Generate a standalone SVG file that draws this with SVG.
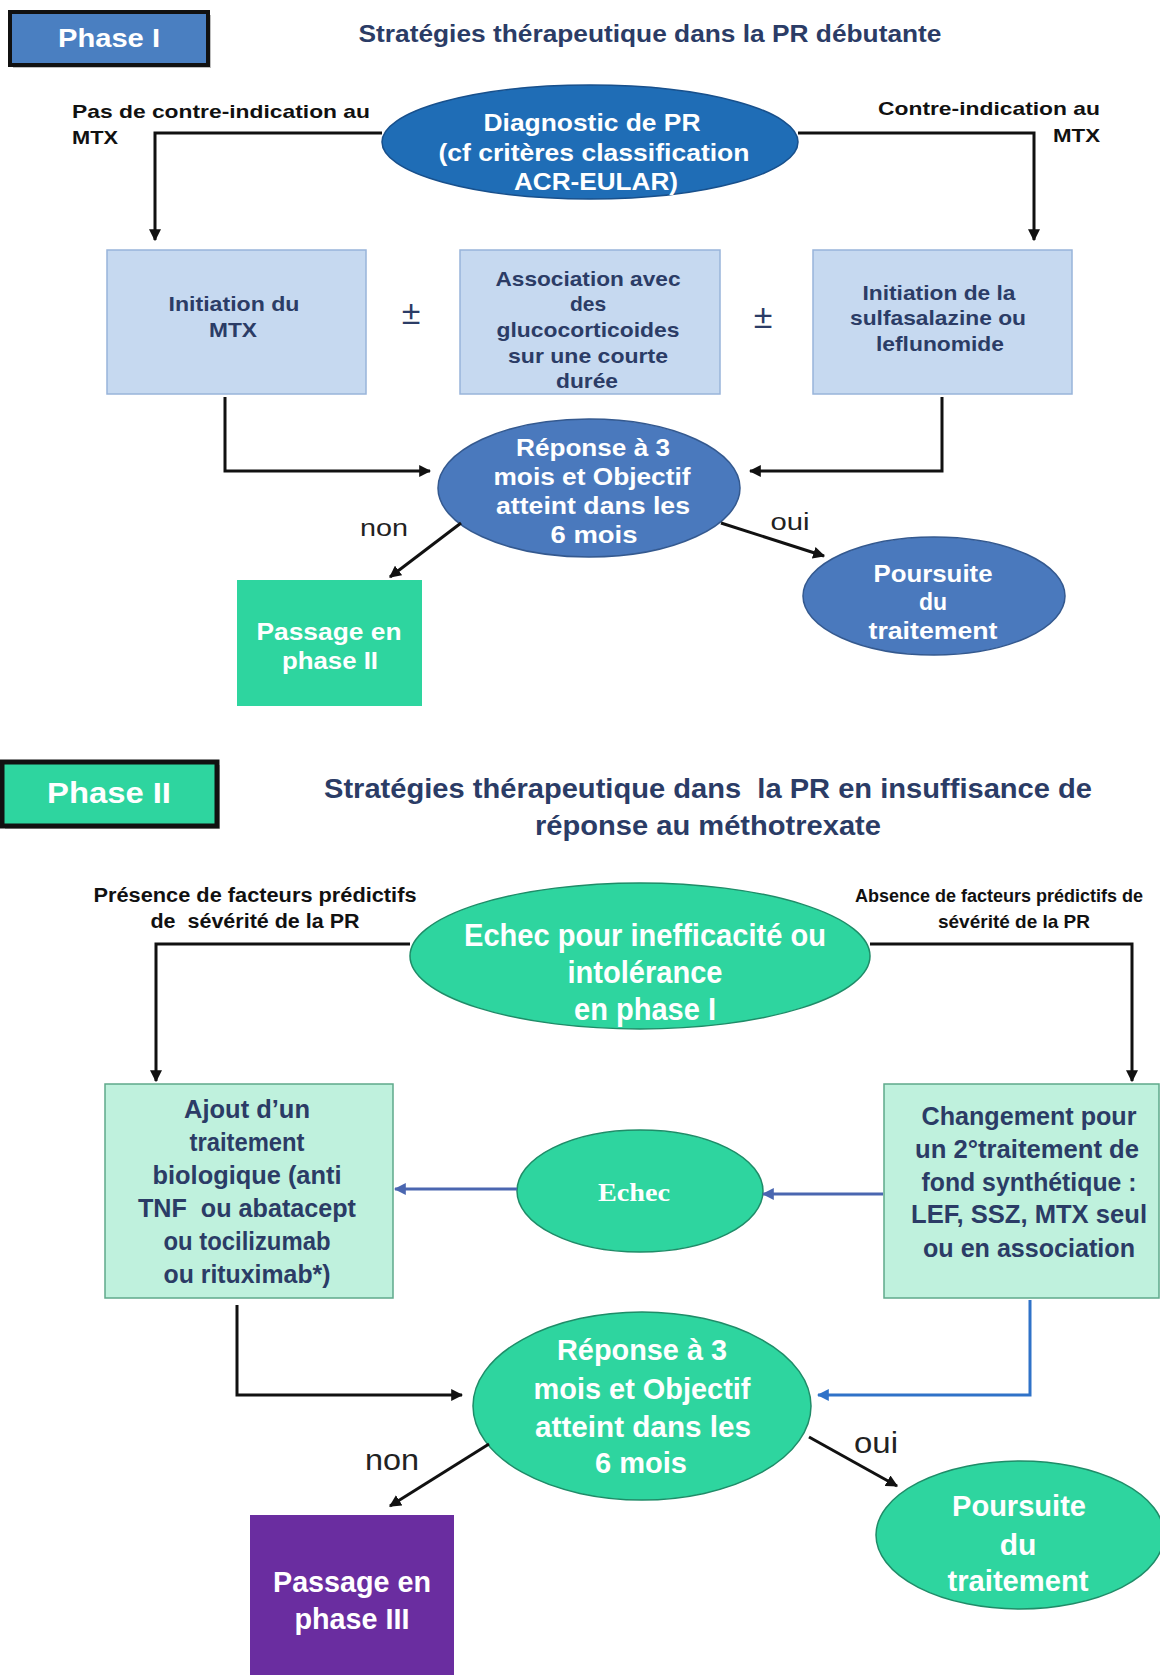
<svg xmlns="http://www.w3.org/2000/svg" width="1160" height="1675" viewBox="0 0 1160 1675">
<defs>
<marker id="ah" viewBox="0 0 10 10" refX="9" refY="5" markerWidth="4" markerHeight="4" orient="auto" markerUnits="strokeWidth"><path d="M0,0 L10,5 L0,10 z" fill="#111"/></marker>
<marker id="ahb" viewBox="0 0 10 10" refX="9" refY="5" markerWidth="4" markerHeight="4" orient="auto" markerUnits="strokeWidth"><path d="M0,0 L10,5 L0,10 z" fill="#4a66b0"/></marker>
<marker id="ahb2" viewBox="0 0 10 10" refX="9" refY="5" markerWidth="4" markerHeight="4" orient="auto" markerUnits="strokeWidth"><path d="M0,0 L10,5 L0,10 z" fill="#2f72c8"/></marker>
</defs>
<style>
text{font-family:"Liberation Sans",Arial,sans-serif;font-weight:bold;text-anchor:middle;white-space:pre}
.nav{fill:#2b3c66}
.wh{fill:#ffffff}
.blk{fill:#111}
.reg{font-weight:normal;fill:#222}
.conn{fill:none;stroke:#111;stroke-width:3}
.bconn{fill:none;stroke:#4a66b0;stroke-width:3}
.bconn2{fill:none;stroke:#2f72c8;stroke-width:3}
.lb{fill:#c6d9f0;stroke:#98b4da;stroke-width:1.5}
.mint{fill:#bff1dd;stroke:#5fa98b;stroke-width:1.5}
.grn{fill:#2ed59f}
.gell{fill:#2ed59f;stroke:#1f8c68;stroke-width:1.5}
.bell{fill:#4a79bd;stroke:#34598f;stroke-width:1.5}
</style>
<rect width="1160" height="1675" fill="#ffffff"/>

<!-- Phase I -->
<g id="phase1-label">
<rect x="13" y="15" width="198" height="53" fill="#444" opacity="0.35"/>
<rect x="10" y="12" width="198" height="53" fill="#4a7fc1" stroke="#111" stroke-width="4"/>
<text x="109" y="47" class="wh" font-size="26" textLength="102" lengthAdjust="spacingAndGlyphs">Phase I</text>
</g>
<g id="phase1-title">
<text x="650" y="42" class="nav" font-size="23" textLength="583" lengthAdjust="spacingAndGlyphs">Stratégies thérapeutique dans la PR débutante</text>
</g>
<g id="label-pas-ci">
<text x="72" y="118" class="blk" font-size="19" style="text-anchor:start" textLength="298" lengthAdjust="spacingAndGlyphs">Pas de contre-indication au</text>
<text x="72" y="144" class="blk" font-size="19" style="text-anchor:start" textLength="46" lengthAdjust="spacingAndGlyphs">MTX</text>
</g>
<g id="label-ci">
<text x="1100" y="115" class="blk" font-size="19" style="text-anchor:end" textLength="222" lengthAdjust="spacingAndGlyphs">Contre-indication au</text>
<text x="1100" y="142" class="blk" font-size="19" style="text-anchor:end" textLength="47" lengthAdjust="spacingAndGlyphs">MTX</text>
</g>
<g id="diagnostic">
<ellipse cx="590" cy="142" rx="208" ry="57" fill="#1f6db6" stroke="#18508c" stroke-width="1.5"/>
<text x="592" y="131" class="wh" font-size="24" textLength="217" lengthAdjust="spacingAndGlyphs">Diagnostic de PR</text>
<text x="594" y="161" class="wh" font-size="24" textLength="311" lengthAdjust="spacingAndGlyphs">(cf critères classification</text>
<text x="596" y="190" class="wh" font-size="24" textLength="164" lengthAdjust="spacingAndGlyphs">ACR-EULAR)</text>
</g>
<g id="init-mtx">
<rect x="107" y="250" width="259" height="144" class="lb"/>
<text x="234" y="311" class="nav" font-size="21" textLength="131" lengthAdjust="spacingAndGlyphs">Initiation du</text>
<text x="233" y="337" class="nav" font-size="21" textLength="48" lengthAdjust="spacingAndGlyphs">MTX</text>
</g>
<g id="pm1"><text x="411" y="324" class="reg" font-size="34" style="fill:#2b3c66">±</text></g>
<g id="gluco">
<rect x="460" y="250" width="260" height="144" class="lb"/>
<text x="588" y="286" class="nav" font-size="21" textLength="185" lengthAdjust="spacingAndGlyphs">Association avec</text>
<text x="588" y="311" class="nav" font-size="21">des</text>
<text x="588" y="337" class="nav" font-size="21" textLength="183" lengthAdjust="spacingAndGlyphs">glucocorticoides</text>
<text x="588" y="363" class="nav" font-size="21" textLength="160" lengthAdjust="spacingAndGlyphs">sur une courte</text>
<text x="587" y="388" class="nav" font-size="21" textLength="62" lengthAdjust="spacingAndGlyphs">durée</text>
</g>
<g id="pm2"><text x="763" y="328" class="reg" font-size="34" style="fill:#2b3c66">±</text></g>
<g id="init-ssz">
<rect x="813" y="250" width="259" height="144" class="lb"/>
<text x="939" y="300" class="nav" font-size="21" textLength="153" lengthAdjust="spacingAndGlyphs">Initiation de la</text>
<text x="938" y="325" class="nav" font-size="21" textLength="176" lengthAdjust="spacingAndGlyphs">sulfasalazine ou</text>
<text x="940" y="351" class="nav" font-size="21" textLength="128" lengthAdjust="spacingAndGlyphs">leflunomide</text>
</g>
<g id="reponse1">
<ellipse cx="589" cy="488" rx="151" ry="69" class="bell"/>
<text x="593" y="456" class="wh" font-size="23" textLength="154" lengthAdjust="spacingAndGlyphs">Réponse à 3</text>
<text x="592" y="485" class="wh" font-size="23" textLength="197" lengthAdjust="spacingAndGlyphs">mois et Objectif</text>
<text x="593" y="514" class="wh" font-size="23" textLength="194" lengthAdjust="spacingAndGlyphs">atteint dans les</text>
<text x="594" y="543" class="wh" font-size="23" textLength="87" lengthAdjust="spacingAndGlyphs">6 mois</text>
</g>
<g id="passage2">
<rect x="237" y="580" width="185" height="126" class="grn"/>
<text x="329" y="640" class="wh" font-size="23" textLength="145" lengthAdjust="spacingAndGlyphs">Passage en</text>
<text x="330" y="669" class="wh" font-size="23" textLength="96" lengthAdjust="spacingAndGlyphs">phase II</text>
</g>
<g id="poursuite1">
<ellipse cx="934" cy="596" rx="131" ry="59" class="bell"/>
<text x="933" y="582" class="wh" font-size="23" textLength="119" lengthAdjust="spacingAndGlyphs">Poursuite</text>
<text x="933" y="610" class="wh" font-size="23">du</text>
<text x="933" y="639" class="wh" font-size="23" textLength="129" lengthAdjust="spacingAndGlyphs">traitement</text>
</g>
<g id="labels1">
<text x="384" y="536" class="reg" font-size="23" textLength="48" lengthAdjust="spacingAndGlyphs">non</text>
<text x="790" y="530" class="reg" font-size="23" textLength="39" lengthAdjust="spacingAndGlyphs">oui</text>
</g>

<!-- Phase II -->
<g id="phase2-label">
<rect x="5" y="765" width="215" height="64" fill="#444" opacity="0.35"/>
<rect x="2" y="762" width="215" height="64" fill="#2ed59f" stroke="#111" stroke-width="5"/>
<text x="109" y="803" class="wh" font-size="30" textLength="124" lengthAdjust="spacingAndGlyphs">Phase II</text>
</g>
<g id="phase2-title">
<text x="708" y="798" class="nav" font-size="28" textLength="768" lengthAdjust="spacingAndGlyphs">Stratégies thérapeutique dans  la PR en insuffisance de</text>
<text x="708" y="835" class="nav" font-size="28" textLength="346" lengthAdjust="spacingAndGlyphs">réponse au méthotrexate</text>
</g>
<g id="label-presence">
<text x="255" y="902" class="blk" font-size="20" textLength="323" lengthAdjust="spacingAndGlyphs">Présence de facteurs prédictifs</text>
<text x="255" y="928" class="blk" font-size="20" textLength="209" lengthAdjust="spacingAndGlyphs">de  sévérité de la PR</text>
</g>
<g id="label-absence">
<text x="855" y="902" class="blk" font-size="18" style="text-anchor:start" textLength="288" lengthAdjust="spacingAndGlyphs">Absence de facteurs prédictifs de</text>
<text x="1014" y="928" class="blk" font-size="19" textLength="152" lengthAdjust="spacingAndGlyphs">sévérité de la PR</text>
</g>
<g id="echec-phase1">
<ellipse cx="640" cy="956" rx="230" ry="73" class="gell"/>
<text x="645" y="946" class="wh" font-size="32" textLength="362" lengthAdjust="spacingAndGlyphs">Echec pour inefficacité ou</text>
<text x="645" y="983" class="wh" font-size="32" textLength="155" lengthAdjust="spacingAndGlyphs">intolérance</text>
<text x="645" y="1020" class="wh" font-size="32" textLength="142" lengthAdjust="spacingAndGlyphs">en phase I</text>
</g>
<g id="ajout-bio">
<rect x="105" y="1084" width="288" height="214" class="mint"/>
<text x="247" y="1118" class="nav" font-size="26" textLength="126" lengthAdjust="spacingAndGlyphs">Ajout d’un</text>
<text x="247" y="1151" class="nav" font-size="26" textLength="115" lengthAdjust="spacingAndGlyphs">traitement</text>
<text x="247" y="1184" class="nav" font-size="26" textLength="189" lengthAdjust="spacingAndGlyphs">biologique (anti</text>
<text x="247" y="1217" class="nav" font-size="26" textLength="218" lengthAdjust="spacingAndGlyphs">TNF  ou abatacept</text>
<text x="247" y="1250" class="nav" font-size="26" textLength="167" lengthAdjust="spacingAndGlyphs">ou tocilizumab</text>
<text x="247" y="1283" class="nav" font-size="26" textLength="167" lengthAdjust="spacingAndGlyphs">ou rituximab*)</text>
</g>
<g id="changement">
<rect x="884" y="1084" width="275" height="214" class="mint"/>
<text x="1029" y="1125" class="nav" font-size="26" textLength="215" lengthAdjust="spacingAndGlyphs">Changement pour</text>
<text x="1027" y="1158" class="nav" font-size="26" textLength="224" lengthAdjust="spacingAndGlyphs">un 2°traitement de</text>
<text x="1029" y="1191" class="nav" font-size="26" textLength="215" lengthAdjust="spacingAndGlyphs">fond synthétique :</text>
<text x="1029" y="1223" class="nav" font-size="26" textLength="236" lengthAdjust="spacingAndGlyphs">LEF, SSZ, MTX seul</text>
<text x="1029" y="1257" class="nav" font-size="26" textLength="212" lengthAdjust="spacingAndGlyphs">ou en association</text>
</g>
<g id="echec">
<ellipse cx="640" cy="1191" rx="123" ry="61" class="gell"/>
<text x="634" y="1201" class="wh" font-size="26" style="font-family:'Liberation Serif','Times New Roman',serif" textLength="72" lengthAdjust="spacingAndGlyphs">Echec</text>
</g>
<g id="reponse2">
<ellipse cx="642" cy="1406" rx="169" ry="94" class="gell"/>
<text x="642" y="1360" class="wh" font-size="30" textLength="170" lengthAdjust="spacingAndGlyphs">Réponse à 3</text>
<text x="642" y="1399" class="wh" font-size="30" textLength="217" lengthAdjust="spacingAndGlyphs">mois et Objectif</text>
<text x="643" y="1437" class="wh" font-size="30" textLength="216" lengthAdjust="spacingAndGlyphs">atteint dans les</text>
<text x="641" y="1473" class="wh" font-size="30" textLength="92" lengthAdjust="spacingAndGlyphs">6 mois</text>
</g>
<g id="passage3">
<rect x="250" y="1515" width="204" height="160" fill="#6a2da0"/>
<text x="352" y="1592" class="wh" font-size="29" textLength="158" lengthAdjust="spacingAndGlyphs">Passage en</text>
<text x="352" y="1629" class="wh" font-size="29" textLength="115" lengthAdjust="spacingAndGlyphs">phase III</text>
</g>
<g id="poursuite2">
<ellipse cx="1020" cy="1535" rx="144" ry="74" class="gell"/>
<text x="1019" y="1516" class="wh" font-size="30" textLength="134" lengthAdjust="spacingAndGlyphs">Poursuite</text>
<text x="1018" y="1555" class="wh" font-size="30">du</text>
<text x="1018" y="1591" class="wh" font-size="30" textLength="141" lengthAdjust="spacingAndGlyphs">traitement</text>
</g>
<g id="labels2">
<text x="392" y="1470" class="reg" font-size="29" textLength="54" lengthAdjust="spacingAndGlyphs">non</text>
<text x="876" y="1453" class="reg" font-size="29" textLength="44" lengthAdjust="spacingAndGlyphs">oui</text>
</g>

<!-- Connectors -->
<g id="connectors">
<path class="conn" d="M382,133 H155 V240" marker-end="url(#ah)"/>
<path class="conn" d="M798,133 H1034 V240" marker-end="url(#ah)"/>
<path class="conn" d="M225,397 V471 H430" marker-end="url(#ah)"/>
<path class="conn" d="M942,397 V471 H750" marker-end="url(#ah)"/>
<path class="conn" d="M461,523 L390,577" marker-end="url(#ah)"/>
<path class="conn" d="M721,523 L824,556" marker-end="url(#ah)"/>
<path class="conn" d="M410,944 H156 V1081" marker-end="url(#ah)"/>
<path class="conn" d="M870,944 H1132 V1081" marker-end="url(#ah)"/>
<path class="bconn" d="M517,1189 H395" marker-end="url(#ahb)"/>
<path class="bconn" d="M883,1194 H763" marker-end="url(#ahb)"/>
<path class="conn" d="M237,1305 V1395 H462" marker-end="url(#ah)"/>
<path class="bconn2" d="M1030,1300 V1395 H818" marker-end="url(#ahb2)"/>
<path class="conn" d="M489,1444 L390,1506" marker-end="url(#ah)"/>
<path class="conn" d="M809,1437 L897,1486" marker-end="url(#ah)"/>
</g>
</svg>
